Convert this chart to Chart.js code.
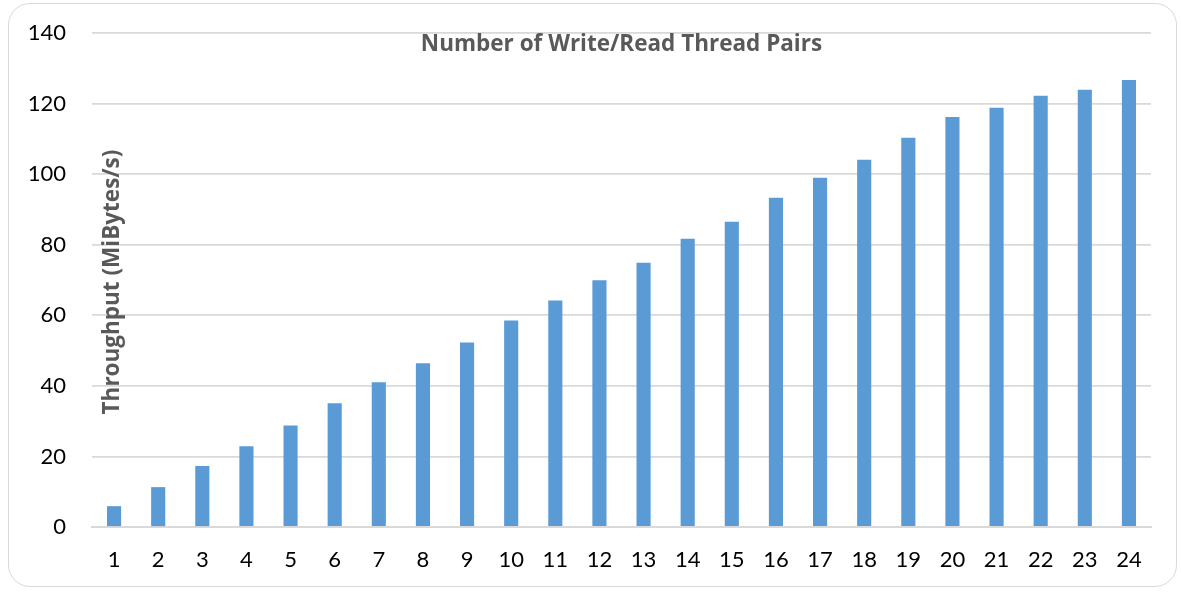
<!DOCTYPE html>
<html>
<head>
<meta charset="utf-8">
<script src="https://cdn.jsdelivr.net/npm/chart.js@4/dist/chart.umd.min.js"></script>
<style>
  html, body { margin: 0; padding: 0; background: #fff; }
  #wrap { position: relative; width: 1181px; height: 592px; }
  #frame { position: absolute; left: 8px; top: 3px; width: 1169px; height: 584px;
           border: 1.5px solid #d9d9d9; border-radius: 22px; box-sizing: border-box; }
  canvas { position: absolute; left: 0; top: 0; }
</style>
</head>
<body>
<div id="wrap">
  <div id="frame"></div>
  <canvas id="c" width="1181" height="592"></canvas>
</div>
<script>
const categories = ["1","2","3","4","5","6","7","8","9","10","11","12","13","14","15","16","17","18","19","20","21","22","23","24"];
const throughput = [5.9, 11.3, 17.3, 22.9, 28.8, 35.1, 41.0, 46.4, 52.3, 58.5, 64.2, 69.9, 74.9, 81.7, 86.5, 93.3, 99.0, 104.1, 110.3, 116.2, 118.8, 122.2, 123.9, 126.7];
const yTicks = [0, 20, 40, 60, 80, 100, 120, 140];
const chartTitle = "Number of Write/Read Thread Pairs";
const yTitle = "Throughput (MiBytes/s)";

const TICKFONT = "Lato, 'Open Sans', sans-serif";
const TITLEFONT = "'Open Sans', Lato, sans-serif";

const overlayText = {
  id: 'overlayText',
  afterDraw(chart) {
    const ctx = chart.ctx;
    const a = chart.chartArea;
    ctx.save();
    ctx.fillStyle = '#595959';
    ctx.font = "bold 22.5px " + TITLEFONT;
    ctx.textAlign = 'center';
    ctx.textBaseline = 'middle';
    ctx.fillText(chartTitle, (a.left + a.right) / 2, 45);
    ctx.translate(113, 282);
    ctx.rotate(-Math.PI / 2);
    ctx.fillText(yTitle, 0, 0);
    ctx.restore();
  }
};

new Chart(document.getElementById('c'), {
  type: 'bar',
  data: {
    labels: categories,
    datasets: [{
      data: throughput,
      backgroundColor: '#5b9bd5',
      borderWidth: 0,
      barPercentage: 0.32,
      categoryPercentage: 1.0
    }]
  },
  options: {
    responsive: false,
    animation: false,
    devicePixelRatio: 1,
    layout: { padding: { left: 0, right: 30, top: 33, bottom: 0 } },
    plugins: { legend: { display: false }, tooltip: { enabled: false }, title: { display: false } },
    scales: {
      x: {
        grid: { display: false, drawTicks: false },
        border: { color: '#d9d9d9', width: 2 },
        ticks: { color: '#000', font: { family: TICKFONT, size: 22 }, padding: 20, maxRotation: 0, autoSkip: false },
        afterFit(s) { s.height = 65; s.paddingLeft = 0; s.paddingRight = 0; }
      },
      y: {
        min: 0, max: 140,
        afterBuildTicks(s) { s.ticks = yTicks.map(v => ({ value: v })); },
        grid: { color: '#d9d9d9', lineWidth: 1.8, drawTicks: false },
        border: { display: false },
        ticks: { color: '#000', font: { family: TICKFONT, size: 22 }, padding: 26 },
        afterFit(s) { s.width = 92; s.paddingTop = 0; s.paddingBottom = 0; }
      }
    }
  },
  plugins: [overlayText]
});
</script>
</body>
</html>
